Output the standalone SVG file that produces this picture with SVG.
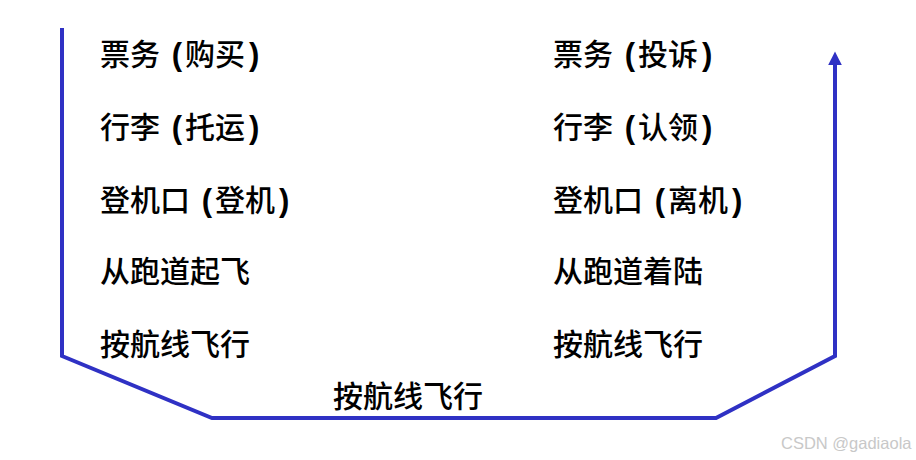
<svg xmlns="http://www.w3.org/2000/svg" width="916" height="460" viewBox="0 0 916 460">
<style>
.t{font-family:"Noto Sans CJK SC","Liberation Sans",sans-serif;font-size:30px;fill:#000;font-weight:500}
.p{font-family:"Liberation Sans",sans-serif;font-weight:bold;font-size:31px}
.wm{font-family:"Liberation Sans",sans-serif;font-size:16.5px;fill:#c8c8c8}
</style>
<defs>
<marker id="ah" markerWidth="4" markerHeight="4" refX="2" refY="2" orient="auto" markerUnits="strokeWidth">
<path d="M0,0.3 L3.4,2 L0,3.7 Z" fill="#2f31c4"/>
</marker>
</defs>
<rect width="916" height="460" fill="#fff"/>
<g id="connectors">
<polyline points="62,28 62,356 212,418 716,418 835,356 835,57" fill="none" stroke="#2f31c4" stroke-width="4" marker-end="url(#ah)"/>
</g>
<g id="left">
<text class="t" x="100" y="65">票务 <tspan class="p" dx="5">(</tspan><tspan dx="3">购买</tspan><tspan class="p" dx="4">)</tspan></text>
<text class="t" x="100" y="138">行李 <tspan class="p" dx="5">(</tspan><tspan dx="3">托运</tspan><tspan class="p" dx="4">)</tspan></text>
<text class="t" x="100" y="211">登机口 <tspan class="p" dx="5">(</tspan><tspan dx="3">登机</tspan><tspan class="p" dx="4">)</tspan></text>
<text class="t" x="100" y="282">从跑道起飞</text>
<text class="t" x="100" y="355">按航线飞行</text>
</g>
<g id="right">
<text class="t" x="553" y="65">票务 <tspan class="p" dx="5">(</tspan><tspan dx="3">投诉</tspan><tspan class="p" dx="4">)</tspan></text>
<text class="t" x="553" y="138">行李 <tspan class="p" dx="5">(</tspan><tspan dx="3">认领</tspan><tspan class="p" dx="4">)</tspan></text>
<text class="t" x="553" y="211">登机口 <tspan class="p" dx="5">(</tspan><tspan dx="3">离机</tspan><tspan class="p" dx="4">)</tspan></text>
<text class="t" x="553" y="282">从跑道着陆</text>
<text class="t" x="553" y="355">按航线飞行</text>
</g>
<g id="bottom">
<text class="t" x="333" y="407">按航线飞行</text>
</g>
<text class="wm" x="781" y="449">CSDN @gadiaola</text>
</svg>
